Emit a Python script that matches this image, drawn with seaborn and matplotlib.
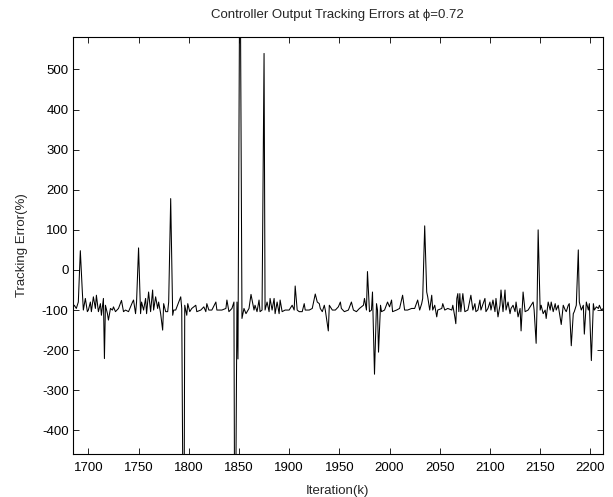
import matplotlib
matplotlib.use("Agg")
import matplotlib.pyplot as plt
import seaborn as sns
import pandas as pd

iterations = [
    1684, 1686, 1688, 1690, 1692, 1694, 1695, 1697, 1699, 1700, 1702, 1703, 1705, 1707, 1708,
    1710, 1712, 1713, 1715, 1716, 1717, 1719, 1720, 1722, 1724, 1725, 1727, 1730, 1733, 1735,
    1737, 1740, 1744, 1745, 1747, 1748, 1750, 1752, 1753, 1755, 1757, 1758, 1760, 1762, 1764,
    1765, 1767, 1769, 1770, 1772, 1774, 1775, 1777, 1779, 1780, 1782, 1784, 1785, 1787, 1790,
    1792, 1793, 1795, 1796, 1798, 1799, 1801, 1803, 1807, 1808, 1812, 1815, 1817, 1818, 1820,
    1823, 1827, 1828, 1833, 1837, 1838, 1840, 1843, 1845, 1846, 1848, 1849, 1851, 1853, 1855,
    1857, 1860, 1862, 1865, 1866, 1868, 1870, 1871, 1873, 1875, 1876, 1878, 1880, 1881, 1883,
    1885, 1886, 1888, 1890, 1891, 1893, 1896, 1900, 1903, 1905, 1906, 1908, 1910, 1913, 1915,
    1916, 1920, 1923, 1926, 1928, 1930, 1931, 1933, 1935, 1936, 1939, 1940, 1943, 1946, 1949,
    1951,
    1952, 1955, 1959, 1962, 1964, 1967, 1970, 1974, 1975, 1977, 1978, 1980, 1982, 1983, 1985,
    1987, 1988, 1989, 1991, 1992, 1995, 1998, 2000, 2002, 2003, 2007, 2010, 2013, 2015, 2018,
    2022, 2025, 2028, 2030, 2032, 2033, 2035, 2037, 2038, 2040, 2042, 2043, 2045, 2047, 2048,
    2052, 2053, 2055, 2058, 2062, 2063, 2065, 2066, 2067, 2068, 2069, 2070, 2071, 2073, 2075,
    2078, 2081, 2083, 2085, 2086, 2088, 2090, 2091, 2095, 2096, 2098, 2100, 2101, 2103, 2105,
    2106, 2108, 2110, 2111, 2113, 2115, 2116, 2118, 2120, 2121, 2123, 2125, 2126, 2128, 2130,
    2131, 2133, 2135, 2138, 2141, 2143, 2144, 2146, 2147, 2148, 2150, 2151, 2153, 2155, 2156,
    2158, 2160, 2161, 2163, 2165, 2166, 2168, 2171, 2173, 2175, 2176, 2178, 2179, 2181, 2183,
    2184, 2186, 2188, 2189, 2191, 2193, 2194, 2196, 2198, 2199, 2201, 2203, 2204, 2206, 2208,
    2209, 2211, 2213,
]

errors = [
    -96, -88, -96, -80, 48, -55, -100, -71, -104, -100, -80, -104, -67, -96, -63,
    -104, -84, -113, -71, -221, -88, -109, -125, -96, -100, -92, -104, -96, -76, -104,
    -100, -104, -80, -75, -109, -80, 55, -109, -80, -100, -71, -109, -55, -104, -50,
    -100, -67, -96, -80, -109, -150, -84, -104, -104, -80, 178, -113, -100, -100, -80,
    -67, -96, -900, -88, -113, -84, -104, -96, -88, -104, -100, -92, -104, -84, -100,
    -100, -80, -100, -100, -96, -75, -104, -96, -80, -900, -80, -222, 900, -121, -96,
    -109, -96, -61, -100, -88, -104, -75, -104, -100, 540, -100, -80, -104, -71, -100,
    -71, -109, -80, -109, -75, -104, -100, -100, -88, -100, -40, -100, -104, -104, -84,
    -100, -100, -96, -60, -80, -84, -96, -104, -88, -100, -152, -88, -100, -100, -92,
    -80,
    -96, -104, -100, -80, -100, -104, -96, -88, -71, -100, -4, -104, -100, -55, -260,
    -84, -100, -205, -88, -104, -100, -80, -92, -75, -104, -100, -96, -63, -100, -100,
    -96, -96, -75, -100, -84, -71, 110, -55, -67, -100, -63, -100, -88, -117, -100,
    -96, -84, -100, -96, -100, -88, -117, -134, -71, -59, -104, -59, -104, -59, -104,
    -100, -63, -100, -84, -104, -100, -75, -100, -71, -104, -96, -80, -100, -75, -104,
    -71, -117, -88, -50, -104, -50, -100, -80, -109, -96, -88, -104, -80, -117, -96,
    -152, -55, -104, -100, -88, -80, -100, -183, -80, 100, -100, -88, -109, -100, -121,
    -80, -100, -80, -104, -84, -100, -88, -136, -88, -100, -104, -88, -84, -189, -109,
    -104, -88, 50, -80, -100, -88, -160, -80, -100, -84, -226, -84, -100, -92, -96,
    -88, -100, -96,
]

x_ticks = [1700, 1750, 1800, 1850, 1900, 1950, 2000, 2050, 2100, 2150, 2200]
y_ticks = [-400, -300, -200, -100, 0, 100, 200, 300, 400, 500]

df = pd.DataFrame({"Iteration": iterations, "Error": errors})

sns.set_style("ticks")
plt.rcParams["font.family"] = ["Liberation Sans", "DejaVu Sans"]
plt.rcParams["axes.unicode_minus"] = False
plt.rcParams["xtick.direction"] = "in"
plt.rcParams["ytick.direction"] = "in"

fig = plt.figure(figsize=(6.13, 4.97), dpi=100)
ax = fig.add_axes([72.7 / 613, 1 - 454 / 497, (603 - 72.7) / 613, (454 - 37) / 497])

sns.lineplot(data=df, x="Iteration", y="Error", ax=ax, color="black", linewidth=0.75,
             estimator=None, sort=False)

ax.set_xlim(1684.4, 2212.6)
ax.set_ylim(-459, 581)
ax.set_xticks(x_ticks)
ax.set_yticks(y_ticks)
ax.tick_params(axis="both", which="both", direction="in", length=4, width=0.6,
               top=True, right=True, labelsize=9.5, colors="black")
ax.tick_params(axis="x", pad=6)
ax.tick_params(axis="y", pad=3)
for s in ax.spines.values():
    s.set_visible(True)
    s.set_color("black")
    s.set_linewidth(0.8)

ax.set_xlabel("Iteration(k)", fontsize=9.5, labelpad=8)
ax.set_ylabel("Tracking Error(%)", fontsize=9.5, labelpad=10)
ax.set_title("Controller Output Tracking Errors at \u03d5=0.72", fontsize=9.5, pad=14)

fig.savefig("out.png", dpi=100)
